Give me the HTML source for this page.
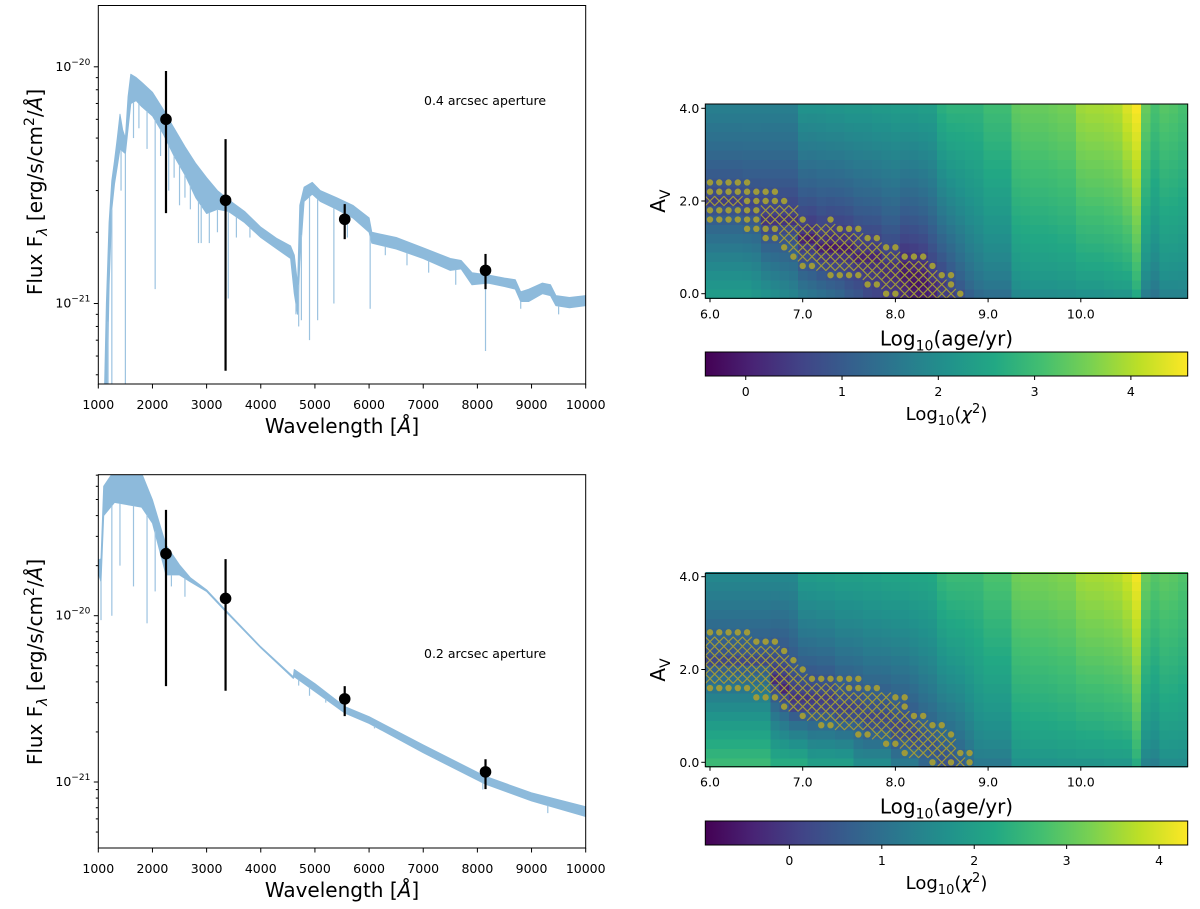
<!DOCTYPE html>
<html><head><meta charset="utf-8">
<style>
html,body{margin:0;padding:0;background:#fff;}
svg{display:block;font-family:"DejaVu Sans","Liberation Sans",sans-serif;}
</style></head>
<body>
<svg id="fig" width="1200" height="909" viewBox="0 0 1200 909" xmlns="http://www.w3.org/2000/svg">
<defs>
<clipPath id="clipTop"><rect x="98.3" y="5.5" width="487.4" height="378.5"/></clipPath>
<clipPath id="clipBot"><rect x="98.3" y="474.7" width="487.4" height="373.3"/></clipPath>
<linearGradient id="viridis" x1="0" x2="1" y1="0" y2="0">
<stop offset="0" stop-color="#440154"/><stop offset="0.1" stop-color="#482475"/><stop offset="0.2" stop-color="#414487"/><stop offset="0.3" stop-color="#355f8d"/><stop offset="0.4" stop-color="#2a788e"/><stop offset="0.5" stop-color="#21918c"/><stop offset="0.6" stop-color="#22a884"/><stop offset="0.7" stop-color="#44bf70"/><stop offset="0.8" stop-color="#7ad151"/><stop offset="0.9" stop-color="#bddf26"/><stop offset="1" stop-color="#fde725"/>
</linearGradient>
</defs>
<g id="specTop"></g>
<g id="specBot"></g>
<g id="heatTop"></g>
<g id="heatBot"></g>
<text x="424" y="105" font-size="12.5">0.4 arcsec aperture</text>
<text x="424" y="658" font-size="12.5">0.2 arcsec aperture</text>
</svg>
<script>
// ---------- SED data (flux in units of 1e-21 erg/s/cm2/A) ----------
const topWave  = [1100,1150,1200,1250,1300,1350,1400,1450,1500,1550,1600,1700,1800,2000,2200,2400,2600,2800,3000,3200,3400,3700,4000,4300,4550,4620,4680,4720,4800,4950,5100,5400,5700,6000,6050,6500,7000,7500,7700,7900,8200,8500,8700,8800,8950,9200,9350,9450,9700,10000];
const topUpper = [0.3,1.0,2.2,3.3,4.0,5.0,6.3,5.4,5.0,7.5,9.3,9.0,8.6,7.8,6.6,5.5,4.6,3.9,3.4,3.0,2.75,2.45,2.1,1.88,1.75,1.6,1.2,2.6,3.1,3.25,3.0,2.8,2.6,2.3,2.0,1.9,1.72,1.55,1.52,1.35,1.32,1.28,1.26,1.12,1.15,1.22,1.2,1.08,1.06,1.08];
const topLower = [0.3,0.3,1.2,2.5,3.2,3.8,4.5,4.4,4.3,5.5,7.0,7.2,6.8,6.2,5.2,4.2,3.5,2.8,2.4,2.5,2.45,2.2,1.9,1.7,1.55,1.1,0.9,1.5,2.7,2.9,2.7,2.5,2.3,2.0,1.8,1.7,1.55,1.38,1.4,1.2,1.22,1.18,1.15,1.02,1.02,1.1,1.08,0.98,0.96,0.98];
const topLineWave  = [1180,1250,1420,1500,1650,1750,1900,2050,2150,2300,2400,2500,2600,2700,2850,2900,3050,3200,3400,3550,3800,4650,4700,4750,4900,5050,5350,5600,6020,6300,6700,7100,7600,8150,8800,9500];
const topLineDepth = [0.3,0.3,3.0,0.3,5.0,5.5,4.5,1.15,4.2,3.0,3.4,2.6,2.8,2.5,1.8,1.8,1.8,2.0,1.05,1.9,1.9,0.9,0.8,0.85,0.7,0.85,1.0,1.9,0.95,1.6,1.45,1.35,1.2,0.63,0.95,0.9];
const topPtWave = [2250,3350,5550,8150];
const topPtFlux = [6.0,2.73,2.27,1.38];
const topPtHi   = [9.6,4.95,2.63,1.62];
const topPtLo   = [2.41,0.52,1.87,1.15];

const botWave  = [1000,1050,1100,1300,1800,2000,2250,2500,2700,3000,3350,4000,4600,4620,5000,5550,6000,7000,8150,9000,10000];
const botUpper = [21.6,22,60,75,72,49.6,26.6,20.2,16.9,14.3,10.8,6.5,4.3,4.75,3.9,2.84,2.47,1.67,1.08,0.86,0.71];
const botLower = [18,16,40,48,45,36,17.6,17.6,16,14.0,10.6,6.4,4.2,4.3,3.5,2.6,2.25,1.5,0.97,0.77,0.62];
const botLineWave  = [1050,1250,1400,1650,1900,2050,2350,2600,4700,4900,5200,5550,6100,7200,8100,9300];
const botLineDepth = [9.4,10,20,15,9,14,15,13,3.8,3.3,3.0,2.5,2.1,1.4,0.9,0.65];
const botPtWave = [2250,3350,5550,8150];
const botPtFlux = [23.6,12.7,3.16,1.15];
const botPtHi   = [43.3,21.9,3.77,1.37];
const botPtLo   = [3.77,3.54,2.49,0.906];

const xTicks = [1000,2000,3000,4000,5000,6000,7000,8000,9000,10000];

// ---------- chi2 map data: per age column (6.0..11.1 step 0.1) ----------
const ages = []; for (let i=0;i<52;i++) ages.push(+(6+0.1*i).toFixed(1));
const avRows = []; for (let j=0;j<21;j++) avRows.push(+(0.2*j).toFixed(1));

const tTop = [1.7,1.7,1.7,1.7,1.7,1.7,1.7,1.7,1.7,1.7, 2.1,2.1,2.1,2.15,2.15,2.2,2.2,2.2,2.25,2.25,2.3,2.3,2.3,2.35,2.35, 2.7,2.8,2.8,2.8,2.8, 3.0,3.0,3.0, 3.35,3.4,3.4,3.4,3.45,3.5,3.5, 3.85,3.9,3.9,3.95,4.0, 4.3,4.55,3.4,3.1,3.25,3.2,3.1];
const tBot = [2.3,2.3,2.3,2.3,2.3,2.2,2.1,2.0,1.9,1.8, 1.6,1.5,1.4,1.3,1.2,1.0,0.9,0.7,0.6,0.5, 0.4,0.2,0.0,0.0,0.1, 0.5,0.8,1.1,1.3,1.4, 1.4,1.4,1.4, 1.9,1.95,2.0,2.0,2.0,2.05,2.05, 2.1,2.1,2.1,2.15,2.2, 2.2,2.6,1.7,1.5,1.8,1.8,1.8];
const tMin = [0.5,0.5,0.5,0.5,0.5,0.5,0.3,0.3,0.3,0.3, 0.05,0,0,-0.1,-0.05,0,0.05, 0.1,0.1,0.1,0.1, -0.2,-0.3,-0.2, 0.0,0.2, 0.5,0.8,1.1,1.3, 1.4,1.4,1.4, 1.9,1.95,2.0,2.0,2.0,2.05,2.05, 2.1,2.1,2.1,2.15,2.2, 2.2,2.6,1.7,1.5,1.8,1.8,1.8];
const tMinAv = [2.0,2.0,2.0,2.0,1.9,1.9,1.6,1.6,1.6,1.6, 1.2,1.2,1.0,1.0,1.0,1.0,0.8,0.8,0.8,0.5,0.5,0.5,0.3,0.3,0.1,0.1, 0,0,0,0,0,0,0,0,0,0,0,0,0,0,0,0,0,0,0,0,0,0,0,0,0,0];

const bTop = [1.5,1.5,1.5,1.5,1.5,1.5,1.5,1.5,1.5,1.5, 1.9,1.9,1.95,1.95,2.0,2.0,2.0,2.05,2.05,2.1,2.1,2.1,2.15,2.15,2.2, 2.5,2.6,2.6,2.6,2.6, 2.8,2.8,2.8, 3.15,3.2,3.2,3.2,3.25,3.3,3.3, 3.55,3.6,3.6,3.65,3.7, 3.9,4.2,3.1,2.9,3.0,2.95,2.85];
const bBot = [2.6,2.6,2.6,2.6,2.6,2.6,2.6, 2.3,2.3,2.3,2.3, 2.0,2.0,2.0,2.0,2.0, 1.6,1.6,1.6,1.6, 1.2,1.2,1.2, 0.8,0.8, 0.4,0.4, 0.6,0.9,1.2, 1.2,1.2,1.2, 1.7,1.7,1.75,1.75,1.75,1.8,1.8,1.8,1.8,1.8,1.85,1.85,1.85, 2.3,1.4,1.3,1.6,1.6,1.6];
const bMin = [0.2,0.2,0.2,0.2,0.2,0.2,0.2, -0.3,-0.4,-0.3,-0.3,-0.25,-0.2,-0.2,-0.1,-0.1, 0,0,0,0,0,0,0, 0.3,0.3,0.3,0.4, 0.6,0.9,1.2, 1.2,1.2,1.2, 1.7,1.7,1.75,1.75,1.75,1.8,1.8,1.8,1.8,1.8,1.85,1.85,1.85, 2.3,1.4,1.3,1.6,1.6,1.6];
const bMinAv = [2.2,2.2,2.2,2.2,2.2,2.2,2.2, 1.8,1.6, 1.3,1.3,1.3,1.3,1.3, 1.1,1.1,1.1, 0.9,0.9,0.9, 0.7,0.7, 0.5,0.5, 0.3, 0.1,0.1, 0,0,0,0,0,0,0,0,0,0,0,0,0,0,0,0,0,0,0,0,0,0,0,0,0];

// best-fit markers: [Av, ageStart, ageEnd]
const tCross = [[2.0,6.0,6.3],[1.8,6.6,6.9],[1.6,6.6,6.9],[1.4,6.8,7.3],[1.2,6.8,7.6],[1.0,6.9,7.8],[0.8,7.0,8.0],[0.6,7.2,8.3],[0.4,7.7,8.4],[0.2,7.9,8.5],[0.0,8.1,8.6]];
const tDots = [[2.4,6.0,6.4],[2.2,6.0,6.7],[2.0,6.4,6.8],[1.8,6.0,6.5],[1.6,6.0,6.5],[1.6,7.0,7.0],[1.6,7.3,7.3],[1.4,6.4,6.7],[1.4,7.4,7.6],[1.2,6.6,6.7],[1.2,7.7,7.8],[1.0,6.8,6.8],[1.0,7.9,8.0],[0.8,6.9,6.9],[0.8,8.1,8.3],[0.6,7.0,7.1],[0.6,8.4,8.4],[0.4,7.3,7.6],[0.4,8.5,8.6],[0.2,7.7,7.8],[0.2,8.6,8.6],[0.0,7.9,8.0],[0.0,8.7,8.7]];
const bCross = [[2.6,6.0,6.4],[2.4,6.0,6.7],[2.2,6.0,6.8],[2.0,6.0,6.9],[1.8,6.0,7.0],[1.6,6.5,7.4],[1.4,6.8,7.9],[1.2,6.9,8.0],[1.0,7.1,8.1],[0.8,7.4,8.3],[0.6,7.8,8.5],[0.4,8.1,8.6],[0.2,8.2,8.6],[0.0,8.5,8.5],[0.0,8.7,8.7]];
const bDots = [[2.8,6.0,6.4],[2.6,6.5,6.7],[2.4,6.8,6.8],[2.2,6.9,6.9],[2.0,7.0,7.0],[1.8,7.1,7.6],[1.6,6.0,6.4],[1.6,7.5,7.8],[1.4,6.5,6.7],[1.4,8.0,8.1],[1.2,6.8,6.8],[1.2,8.1,8.1],[1.0,7.0,7.0],[1.0,8.2,8.3],[0.8,7.2,7.3],[0.8,8.4,8.5],[0.6,7.6,7.7],[0.6,8.6,8.6],[0.4,7.9,8.0],[0.2,8.1,8.1],[0.2,8.7,8.8],[0.0,8.4,8.4],[0.0,8.6,8.6],[0.0,8.8,8.8]];

const ageTicks = [6,7,8,9,10];
const ageTickLabels = ["6.0","7.0","8.0","9.0","10.0"];
const avTicks = [0,2,4];
const avTickLabels = ["0.0","2.0","4.0"];
const cbTicks = [0,1,2,3,4];

// ---------- helpers ----------
const NS = "http://www.w3.org/2000/svg";
function mk(tag, attrs, parent){
  const e = document.createElementNS(NS, tag);
  for (const k in attrs) e.setAttribute(k, attrs[k]);
  if (parent) parent.appendChild(e);
  return e;
}
const VIR = ["#440154","#482475","#414487","#355f8d","#2a788e","#21918c","#22a884","#44bf70","#7ad151","#bddf26","#fde725"];
function hex2rgb(h){return [parseInt(h.substr(1,2),16),parseInt(h.substr(3,2),16),parseInt(h.substr(5,2),16)];}
function viridis(t){
  t = Math.max(0, Math.min(1, t));
  const p = t*10, i = Math.min(9, Math.floor(p)), f = p - i;
  const a = hex2rgb(VIR[i]), b = hex2rgb(VIR[i+1]);
  return "rgb("+[0,1,2].map(k=>Math.round(a[k]+(b[k]-a[k])*f)).join(",")+")";
}

function specPanel(gid, clip, box, lmin, lmax, wave, up, lo, lineW, lineD, pw, pf, ph, pl, ylabY){
  const g = document.getElementById(gid);
  const X = w => box.x0 + (w-1000)/9000*(box.x1-box.x0);
  const Y = f => box.y1 - (Math.log10(f*1e-21) - lmin)/(lmax-lmin)*(box.y1-box.y0);
  const cg = mk("g", {"clip-path":"url(#"+clip+")"}, g);
  let d = "";
  for (let i=0;i<wave.length;i++) d += (i?"L":"M")+X(wave[i]).toFixed(1)+","+Y(up[i]).toFixed(1);
  for (let i=wave.length-1;i>=0;i--) d += "L"+X(wave[i]).toFixed(1)+","+Y(lo[i]).toFixed(1);
  d += "Z";
  const band = mk("path", {d:d, fill:"#8dbadb", stroke:"#8dbadb", "stroke-width":"1", "stroke-linejoin":"round"}, cg);
  
  
  const interp = w => { for (let i=1;i<wave.length;i++) if (w<=wave[i]) { const f=(w-wave[i-1])/(wave[i]-wave[i-1]); return lo[i-1]+(lo[i]-lo[i-1])*f; } return lo[lo.length-1]; };
  for (let i=0;i<lineW.length;i++){
    const ln = mk("line", {x1:X(lineW[i]), x2:X(lineW[i]), y1:Y(interp(lineW[i])), y2:Y(lineD[i]), stroke:"#9cc3e0", "stroke-width":"1.2"}, cg);
    
    
  }
  for (let i=0;i<pw.length;i++){
    const eb = mk("line", {x1:X(pw[i]), x2:X(pw[i]), y1:Y(ph[i]), y2:Y(pl[i]), stroke:"#000", "stroke-width":"2.2"}, cg);
    
    
    const pt = mk("circle", {cx:X(pw[i]), cy:Y(pf[i]), r:"5.8", fill:"#000"}, cg);
    
    
  }
  const fr = mk("rect", {x:box.x0, y:box.y0, width:box.x1-box.x0, height:box.y1-box.y0, fill:"none", stroke:"#000", "stroke-width":"1"}, g);
  
  
  for (const t of xTicks){
    const x = X(t);
    mk("line", {x1:x, x2:x, y1:box.y1, y2:box.y1+4.5, stroke:"#000", "stroke-width":"1"}, g);
    const tl = mk("text", {x:x, y:box.y1+25, "font-size":"12.5", "text-anchor":"middle"}, g);
    tl.textContent = t;
    
    
  }
  for (let n=Math.floor(lmin); n<=Math.ceil(lmax); n++){
    for (let k=1;k<=9;k++){
      const lv = n + Math.log10(k);
      if (lv < lmin || lv > lmax) continue;
      const y = Y(Math.pow(10, lv+21));
      mk("line", {x1:box.x0-(k===1?4.5:2.5), x2:box.x0, y1:y, y2:y, stroke:"#000", "stroke-width":"1"}, g);
      if (k===1){
        const tl = mk("text", {x:box.x0-8, y:y+4, "font-size":"12.5", "text-anchor":"end"}, g);
        
        
        const a = mk("tspan", {}, tl); a.textContent = "10";
        const b = mk("tspan", {dy:"-6", "font-size":"9"}, tl); b.textContent = "\u2212"+(-n);
      }
    }
  }
  const xl = mk("text", {x:(box.x0+box.x1)/2, y:box.y1+49, "font-size":"20", "text-anchor":"middle"}, g);
  
  
  xl.appendChild(document.createTextNode("Wavelength ["));
  const ai = mk("tspan", {"font-style":"italic"}, xl); ai.textContent = "Å";
  xl.appendChild(document.createTextNode("]"));
  const yl = mk("text", {x:0, y:0, "font-size":"20", "text-anchor":"middle", transform:"translate(42,"+ylabY+") rotate(-90)"}, g);
  
  
  yl.appendChild(document.createTextNode("Flux F"));
  const s1 = mk("tspan", {dy:"5", "font-size":"14", "font-style":"italic"}, yl); s1.textContent = "λ";
  const s2 = mk("tspan", {dy:"-5"}, yl); s2.textContent = " [erg/s/cm";
  const s3 = mk("tspan", {dy:"-8", "font-size":"14"}, yl); s3.textContent = "2";
  const s4 = mk("tspan", {dy:"8"}, yl); s4.textContent = "/";
  const s5 = mk("tspan", {"font-style":"italic"}, yl); s5.textContent = "Å";
  const s6 = mk("tspan", {}, yl); s6.textContent = "]";
}

function heatPanel(gid, box, ax0, ax1, ay0, ay1, topV, botV, minV, minAv, cross, dots, cb){
  const g = document.getElementById(gid);
  const X = a => ax0 + (a-6)*(ax1-ax0);
  const Y = v => ay0 - v*(ay0-ay1)/4;
  const cw = (ax1-ax0)*0.1, ch = (ay0-ay1)/4*0.2;
  const val = (i, av) => {
    if (minAv[i] <= 0) return minV[i] + (topV[i]-minV[i])*Math.pow(av/4, 0.75);
    if (av >= minAv[i]) return minV[i] + (topV[i]-minV[i])*Math.pow((av-minAv[i])/(4-minAv[i]), 0.7);
    return minV[i] + (botV[i]-minV[i])*Math.pow((minAv[i]-av)/minAv[i], 0.7);
  };
  const cells = mk("g", {"shape-rendering":"crispEdges"}, g);
  for (let i=0;i<ages.length;i++){
    for (let j=0;j<avRows.length;j++){
      const v = val(i, avRows[j]);
      const r = mk("rect", {x:(X(ages[i])-cw/2).toFixed(2), y:(Y(avRows[j])-ch/2).toFixed(2), width:(cw+0.6).toFixed(2), height:(ch+0.6).toFixed(2), fill:viridis((v-cb.vmin)/(cb.vmax-cb.vmin))}, cells);
      
      
    }
  }
  const mcol = "#9e9a3a";
  for (const c of cross){
    for (let a=c[1]; a<=c[2]+1e-6; a+=0.1){
      const x = X(a), y = Y(c[0]), s = 4.8;
      const p = mk("path", {d:"M"+(x-s)+","+(y-s)+"L"+(x+s)+","+(y+s)+"M"+(x-s)+","+(y+s)+"L"+(x+s)+","+(y-s), stroke:mcol, "stroke-width":"1.2", fill:"none"}, g);
      
      
    }
  }
  for (const c of dots){
    for (let a=c[1]; a<=c[2]+1e-6; a+=0.1){
      const p = mk("circle", {cx:X(a), cy:Y(c[0]), r:"3.2", fill:mcol}, g);
      
      
    }
  }
  const fr = mk("rect", {x:box.x0, y:box.y0, width:box.x1-box.x0, height:box.y1-box.y0, fill:"none", stroke:"#000", "stroke-width":"1"}, g);
  
  
  for (let k=0;k<ageTicks.length;k++){
    const x = X(ageTicks[k]);
    mk("line", {x1:x, x2:x, y1:box.y1, y2:box.y1+4, stroke:"#000"}, g);
    const t = mk("text", {x:x, y:box.y1+20, "font-size":"12.5", "text-anchor":"middle"}, g);
    t.textContent = ageTickLabels[k];
    
    
  }
  for (let k=0;k<avTicks.length;k++){
    const y = Y(avTicks[k]);
    mk("line", {x1:box.x0-4, x2:box.x0, y1:y, y2:y, stroke:"#000"}, g);
    const t = mk("text", {x:box.x0-6, y:y+4.5, "font-size":"12.5", "text-anchor":"end"}, g);
    t.textContent = avTickLabels[k];
    
    
  }
  const xl = mk("text", {x:(box.x0+box.x1)/2, y:box.y1+47, "font-size":"20", "text-anchor":"middle"}, g);
  
  
  xl.appendChild(document.createTextNode("Log"));
  const sb = mk("tspan", {dy:"5", "font-size":"14"}, xl); sb.textContent = "10";
  const rest = mk("tspan", {dy:"-5"}, xl); rest.textContent = "(age/yr)";
  const yl = mk("text", {x:0, y:0, "font-size":"20", "text-anchor":"middle", transform:"translate(665,"+((box.y0+box.y1)/2)+") rotate(-90)"}, g);
  
  
  yl.appendChild(document.createTextNode("A"));
  const vs = mk("tspan", {dy:"5", "font-size":"14"}, yl); vs.textContent = "V";
  const cbr = mk("rect", {x:box.x0, y:cb.y0, width:box.x1-box.x0, height:cb.y1-cb.y0, fill:"url(#viridis)", stroke:"#000", "stroke-width":"1"}, g);
  
  
  const CX = v => box.x0 + (v-cb.vmin)/(cb.vmax-cb.vmin)*(box.x1-box.x0);
  for (const v of cbTicks){
    const x = CX(v);
    mk("line", {x1:x, x2:x, y1:cb.y1, y2:cb.y1+4, stroke:"#000"}, g);
    const t = mk("text", {x:x, y:cb.y1+20, "font-size":"12.5", "text-anchor":"middle"}, g);
    t.textContent = v;
    
    
  }
  const cl = mk("text", {x:(box.x0+box.x1)/2, y:cb.y1+44, "font-size":"18", "text-anchor":"middle"}, g);
  
  
  cl.appendChild(document.createTextNode("Log"));
  const c1 = mk("tspan", {dy:"5", "font-size":"13"}, cl); c1.textContent = "10";
  const c2 = mk("tspan", {dy:"-5"}, cl); c2.textContent = "(";
  const c3 = mk("tspan", {"font-style":"italic"}, cl); c3.textContent = "χ";
  const c4 = mk("tspan", {dy:"-7", "font-size":"13"}, cl); c4.textContent = "2";
  const c5 = mk("tspan", {dy:"7"}, cl); c5.textContent = ")";
}

specPanel("specTop","clipTop",{x0:98.3,x1:585.7,y0:5.5,y1:384},-21.340,-19.741,topWave,topUpper,topLower,topLineWave,topLineDepth,topPtWave,topPtFlux,topPtHi,topPtLo,192);
specPanel("specBot","clipBot",{x0:98.3,x1:585.7,y0:474.7,y1:848},-21.397,-19.152,botWave,botUpper,botLower,botLineWave,botLineDepth,botPtWave,botPtFlux,botPtHi,botPtLo,662);
heatPanel("heatTop",{x0:705.3,x1:1187.7,y0:104,y1:298.3},710,802.7,293.7,108.3,tTop,tBot,tMin,tMinAv,tCross,tDots,{y0:352,y1:376,vmin:-0.42,vmax:4.59});
heatPanel("heatBot",{x0:705.3,x1:1187.7,y0:573.3,y1:766.7},710,802.7,762.3,576.7,bTop,bBot,bMin,bMinAv,bCross,bDots,{y0:821,y1:845,vmin:-0.91,vmax:4.31});
</script>
</body></html>
